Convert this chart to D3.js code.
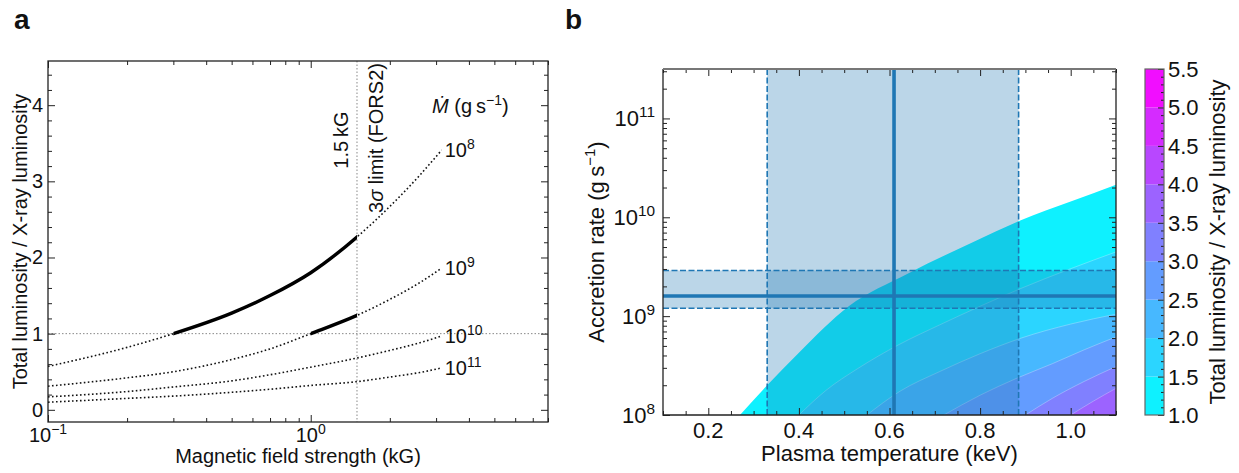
<!DOCTYPE html>
<html lang="en">
<head>
    <meta charset="UTF-8">
    <title>Luminosity ratio vs field strength and plasma temperature</title>
    <script src="https://d3js.org/d3.v7.min.js"></script>
    <style>
        body { margin: 0; background: #fff; }
        svg text { font-family: "Liberation Sans", Arial, Helvetica, sans-serif; fill: #111; }
    </style>
</head>
<body>
<svg id="chart" width="1239" height="473"></svg>
<script>
    // ---------- panel a data ----------
    const fieldKG = [0.1, 0.2, 0.3, 0.5, 0.7, 1.0, 1.5, 2.0, 2.6, 3.15];
    const ratioMdot8  = [0.57, 0.82, 1.0, 1.27, 1.5, 1.8, 2.27, 2.67, 3.08, 3.41];
    const ratioMdot9  = [0.31, 0.42, 0.5, 0.66, 0.8, 1.0, 1.24, 1.45, 1.67, 1.86];
    const ratioMdot10 = [0.17, 0.24, 0.3, 0.38, 0.46, 0.56, 0.68, 0.78, 0.88, 0.97];
    const ratioMdot11 = [0.10, 0.15, 0.18, 0.23, 0.27, 0.32, 0.37, 0.43, 0.49, 0.55];
    const curveExps = ["8", "9", "10", "11"];
    const solidRanges = [[0.3, 1.5], [1.0, 1.5], null, null];
    const fieldLimit = 1.5;

    // ---------- panel b data ----------
    const levels = [1.0, 1.5, 2.0, 2.5, 3.0, 3.5, 4.0, 4.5, 5.0, 5.5];
    // contour boundaries: plasma temperature (keV) and log10 accretion rate
    const bndT = [
        [0.27, 0.33, 0.40, 0.51, 0.64, 0.785, 0.89, 1.0, 1.1],
        [0.40, 0.46, 0.53, 0.62, 0.71, 0.80, 0.89, 1.0, 1.1],
        [0.55, 0.623, 0.711, 0.80, 0.892, 1.0, 1.1],
        [0.72, 0.80, 0.88, 0.96, 1.03, 1.1],
        [0.90, 0.96, 1.03, 1.1],
        [1.0, 1.05, 1.1]
    ];
    const bndLogM = [
        [8.0, 8.30, 8.63, 9.10, 9.43, 9.75, 9.97, 10.16, 10.33],
        [8.0, 8.25, 8.47, 8.71, 8.91, 9.10, 9.28, 9.48, 9.65],
        [8.0, 8.24, 8.44, 8.62, 8.78, 8.92, 9.02],
        [8.0, 8.20, 8.37, 8.52, 8.66, 8.79],
        [8.0, 8.17, 8.34, 8.49],
        [8.0, 8.14, 8.27]
    ];
    const tempBest = 0.61, tempRange = [0.33, 0.885];
    const mdotBest = 1.6e9, mdotRange = [1.2e9, 2.9e9];

    const blue = "#1f77b4";
    const svg = d3.select("#chart");

    // superscript helper: base + raised exponent
    function powText(g, x, y, base, exp, size, anchor) {
        const t = g.append("text")
            .attr("x", x).attr("y", y)
            .attr("font-size", size)
            .attr("text-anchor", anchor || "middle");
        t.append("tspan").text(base);
        t.append("tspan").attr("font-size", size * 0.7).attr("dy", -size * 0.42).text(exp);
        return t;
    }

    function tickAxis(g, axis, vals, size) {
        g.call(axis.tickValues(vals).tickSize(size).tickFormat(""))
            .call(s => s.select(".domain").remove())
            .selectAll("line").attr("stroke", "#222").attr("stroke-width", 1);
    }

    // =============================================
    // PANEL A
    // =============================================
    const aL = 48, aR = 548, aT = 61, aB = 422;
    const xA = d3.scaleLog().domain([0.1, 8]).range([aL, aR]);
    const yA = d3.scaleLinear().domain([-0.16, 4.58]).range([aB, aT]);
    const gA = svg.append("g");

    gA.append("text").attr("x", 14).attr("y", 29)
        .attr("font-size", 28).attr("font-weight", "bold").text("a");

    // reference lines
    gA.append("line")
        .attr("x1", aL).attr("x2", aR).attr("y1", yA(1)).attr("y2", yA(1))
        .attr("stroke", "#888").attr("stroke-width", 1).attr("stroke-dasharray", "1.5,2");
    gA.append("line")
        .attr("x1", xA(fieldLimit)).attr("x2", xA(fieldLimit)).attr("y1", aT).attr("y2", aB)
        .attr("stroke", "#888").attr("stroke-width", 1).attr("stroke-dasharray", "1.5,2");

    const series = [ratioMdot8, ratioMdot9, ratioMdot10, ratioMdot11];
    const lineA = d3.line()
        .x(d => xA(d[0])).y(d => yA(d[1]))
        .curve(d3.curveMonotoneX);

    series.forEach((vals, i) => {
        const pts = fieldKG.map((b, j) => [b, vals[j]]);
        gA.append("path").attr("d", lineA(pts))
            .attr("fill", "none").attr("stroke", "#111")
            .attr("stroke-width", 1.6).attr("stroke-dasharray", "1.6,2.4");
        const r = solidRanges[i];
        if (r) {
            const cid = "solidClip" + i;
            gA.append("clipPath").attr("id", cid).append("rect")
                .attr("x", xA(r[0])).attr("width", xA(r[1]) - xA(r[0]))
                .attr("y", aT).attr("height", aB - aT);
            gA.append("path").attr("d", lineA(pts))
                .attr("clip-path", `url(#${cid})`)
                .attr("fill", "none").attr("stroke", "#000").attr("stroke-width", 3.4);
        }
        const last = pts[pts.length - 1];
        powText(gA, xA(last[0]) + 3, yA(last[1]) + 7, "10", curveExps[i], 20, "start");
    });

    // ticks (inward, all four sides)
    const xMajA = [0.1, 1];
    const xMinA = [0.2, 0.3, 0.4, 0.5, 0.6, 0.7, 0.8, 0.9, 2, 3, 4, 5, 6, 7, 8];
    const yMajA = [0, 1, 2, 3, 4];
    const yMinA = d3.range(-0.2, 4.6, 0.2).map(v => +v.toFixed(1)).filter(v => v > -0.16 && !yMajA.includes(v));
    [[d3.axisBottom, aB], [d3.axisTop, aT]].forEach(([ax, yy]) => {
        const g = gA.append("g").attr("transform", `translate(0,${yy})`);
        tickAxis(g, ax(xA), xMajA, -7);
        const g2 = gA.append("g").attr("transform", `translate(0,${yy})`);
        tickAxis(g2, ax(xA), xMinA, -4);
    });
    [[d3.axisLeft, aL], [d3.axisRight, aR]].forEach(([ax, xx]) => {
        const g = gA.append("g").attr("transform", `translate(${xx},0)`);
        tickAxis(g, ax(yA), yMajA, -7);
        const g2 = gA.append("g").attr("transform", `translate(${xx},0)`);
        tickAxis(g2, ax(yA), yMinA, -4);
    });
    gA.append("rect").attr("x", aL).attr("y", aT).attr("width", aR - aL).attr("height", aB - aT)
        .attr("fill", "none").attr("stroke", "#222").attr("stroke-width", 1.3);

    // tick labels
    yMajA.forEach(v => {
        gA.append("text").attr("x", aL - 5).attr("y", yA(v) + 7)
            .attr("font-size", 20).attr("text-anchor", "end").text(v);
    });
    powText(gA, xA(0.1), 442, "10", "\u22121", 20, "middle");
    powText(gA, xA(1), 442, "10", "0", 20, "middle");

    // axis titles
    gA.append("text").attr("x", (aL + aR) / 2).attr("y", 463)
        .attr("font-size", 20).attr("text-anchor", "middle").text("Magnetic field strength (kG)");
    gA.append("text").attr("transform", `translate(27,${(aT + aB) / 2}) rotate(-90)`)
        .attr("font-size", 20).attr("text-anchor", "middle").text("Total luminosity / X-ray luminosity");

    // annotations
    gA.append("text").attr("transform", `translate(348,140) rotate(-90)`)
        .attr("font-size", 20).attr("text-anchor", "middle").text("1.5\u2009kG");
    const sig = gA.append("text").attr("transform", `translate(383,138) rotate(-90)`)
        .attr("font-size", 20).attr("text-anchor", "middle");
    sig.append("tspan").text("3");
    sig.append("tspan").attr("font-style", "italic").text("\u03c3");
    sig.append("tspan").text(" limit (FORS2)");

    const md = gA.append("text").attr("x", 432).attr("y", 113).attr("font-size", 20);
    md.append("tspan").attr("font-style", "italic").text("\u1e40");
    md.append("tspan").text(" (g\u2009s");
    md.append("tspan").attr("font-size", 14).attr("dy", -8).text("\u22121");
    md.append("tspan").attr("dy", 8).text(")");

    // =============================================
    // PANEL B
    // =============================================
    const bL = 663, bR = 1116, bT = 69, bB = 415;
    const xB = d3.scaleLinear().domain([0.1, 1.1]).range([bL, bR]);
    const yB = d3.scaleLog().domain([1e8, Math.pow(10, 11.5)]).range([bB, bT]);
    const gB = svg.append("g");

    gB.append("text").attr("x", 565).attr("y", 29)
        .attr("font-size", 28).attr("font-weight", "bold").text("b");

    const color = d3.scaleLinear().domain([0, 1]).range(["#00ffff", "#ff00ff"]);
    const bandColor = i => color(((levels[i] + levels[i + 1]) / 2 - levels[0]) / (levels[levels.length - 1] - levels[0]));

    gB.append("clipPath").attr("id", "clipB").append("rect")
        .attr("x", bL).attr("y", bT).attr("width", bR - bL).attr("height", bB - bT);
    const plotB = gB.append("g").attr("clip-path", "url(#clipB)");

    const areaB = d3.area()
        .x(d => xB(d[0])).y0(bB).y1(d => yB(Math.pow(10, d[1])))
        .curve(d3.curveMonotoneX);
    const edgeB = d3.line()
        .x(d => xB(d[0])).y(d => yB(Math.pow(10, d[1])))
        .curve(d3.curveMonotoneX);

    bndT.forEach((ts, i) => {
        const pts = ts.map((t, j) => [t, bndLogM[i][j]]);
        plotB.append("path").attr("d", areaB(pts)).attr("fill", bandColor(i));
        if (i > 0) {
            plotB.append("path").attr("d", edgeB(pts))
                .attr("fill", "none").attr("stroke", "#fff")
                .attr("stroke-opacity", 0.35).attr("stroke-width", 0.8);
        }
    });

    // uncertainty bands
    plotB.append("rect")
        .attr("x", xB(tempRange[0])).attr("width", xB(tempRange[1]) - xB(tempRange[0]))
        .attr("y", bT).attr("height", bB - bT)
        .attr("fill", blue).attr("fill-opacity", 0.3);
    plotB.append("rect")
        .attr("x", bL).attr("width", bR - bL)
        .attr("y", yB(mdotRange[1])).attr("height", yB(mdotRange[0]) - yB(mdotRange[1]))
        .attr("fill", blue).attr("fill-opacity", 0.3);

    tempRange.forEach(t => {
        plotB.append("line").attr("x1", xB(t)).attr("x2", xB(t)).attr("y1", bT).attr("y2", bB)
            .attr("stroke", blue).attr("stroke-width", 1.6).attr("stroke-dasharray", "6,2.5");
    });
    mdotRange.forEach(m => {
        plotB.append("line").attr("x1", bL).attr("x2", bR).attr("y1", yB(m)).attr("y2", yB(m))
            .attr("stroke", blue).attr("stroke-width", 1.6).attr("stroke-dasharray", "6,2.5");
    });
    plotB.append("line").attr("x1", xB(tempBest)).attr("x2", xB(tempBest)).attr("y1", bT).attr("y2", bB)
        .attr("stroke", blue).attr("stroke-width", 3.6);
    plotB.append("line").attr("x1", bL).attr("x2", bR).attr("y1", yB(mdotBest)).attr("y2", yB(mdotBest))
        .attr("stroke", blue).attr("stroke-width", 3.6);

    // ticks
    const xMajB = [0.2, 0.4, 0.6, 0.8, 1.0];
    const xMinB = d3.range(0, 21).map(i => +(0.1 + i * 0.05).toFixed(2)).filter(v => !xMajB.includes(v));
    const yMajB = [1e8, 1e9, 1e10, 1e11];
    const yMinB = [];
    [1e8, 1e9, 1e10, 1e11].forEach(d => d3.range(2, 10).forEach(k => { if (k * d <= Math.pow(10, 11.5)) yMinB.push(k * d); }));
    [[d3.axisBottom, bB], [d3.axisTop, bT]].forEach(([ax, yy]) => {
        tickAxis(gB.append("g").attr("transform", `translate(0,${yy})`), ax(xB), xMajB, -7);
        tickAxis(gB.append("g").attr("transform", `translate(0,${yy})`), ax(xB), xMinB, -4);
    });
    [[d3.axisLeft, bL], [d3.axisRight, bR]].forEach(([ax, xx]) => {
        tickAxis(gB.append("g").attr("transform", `translate(${xx},0)`), ax(yB), yMajB, -7);
        tickAxis(gB.append("g").attr("transform", `translate(${xx},0)`), ax(yB), yMinB, -4);
    });
    gB.append("path").attr("d", `M${bL},${bT}V${bB}H${bR}V${bT}`)
        .attr("fill", "none").attr("stroke", "#222").attr("stroke-width", 1.3);
    gB.append("line").attr("x1", bL).attr("x2", bR).attr("y1", bT).attr("y2", bT)
        .attr("stroke", "#777").attr("stroke-width", 2);

    xMajB.forEach(v => {
        gB.append("text").attr("x", xB(v)).attr("y", 438)
            .attr("font-size", 22).attr("text-anchor", "middle").text(d3.format(".1f")(v));
    });
    yMajB.forEach(v => {
        powText(gB, bL - 8, yB(v) + 8, "10", String(Math.round(Math.log10(v))), 22, "end");
    });

    gB.append("text").attr("x", (bL + bR) / 2).attr("y", 461)
        .attr("font-size", 22).attr("text-anchor", "middle").text("Plasma temperature (keV)");
    const yt = gB.append("text").attr("transform", `translate(604,${(bT + bB) / 2}) rotate(-90)`)
        .attr("font-size", 22).attr("text-anchor", "middle");
    yt.append("tspan").text("Accretion rate (g\u2009s");
    yt.append("tspan").attr("font-size", 15).attr("dy", -9).text("\u22121");
    yt.append("tspan").attr("dy", 9).text(")");

    // =============================================
    // COLOUR BAR
    // =============================================
    const cL = 1145, cR = 1164;
    const yC = d3.scaleLinear().domain([levels[0], levels[levels.length - 1]]).range([bB, bT]);
    const gC = svg.append("g");
    levels.slice(0, -1).forEach((lv, i) => {
        gC.append("rect").attr("x", cL).attr("width", cR - cL)
            .attr("y", yC(levels[i + 1])).attr("height", yC(lv) - yC(levels[i + 1]))
            .attr("fill", bandColor(i));
    });
    const cMin = d3.range(0, 46).map(i => +(1 + i * 0.1).toFixed(1)).filter(v => !levels.includes(v));
    tickAxis(gC.append("g").attr("transform", `translate(${cR},0)`), d3.axisRight(yC), levels, -6);
    tickAxis(gC.append("g").attr("transform", `translate(${cR},0)`), d3.axisRight(yC), cMin, -3);
    gC.append("rect").attr("x", cL).attr("y", bT).attr("width", cR - cL).attr("height", bB - bT)
        .attr("fill", "none").attr("stroke", "#666").attr("stroke-width", 1.2);
    levels.forEach(v => {
        gC.append("text").attr("x", cR + 4).attr("y", yC(v) + 8)
            .attr("font-size", 22).text(d3.format(".1f")(v));
    });
    gC.append("text").attr("transform", `translate(1225,${(bT + bB) / 2}) rotate(-90)`)
        .attr("font-size", 22).attr("text-anchor", "middle").text("Total luminosity / X-ray luminosity");
</script>
</body>
</html>
